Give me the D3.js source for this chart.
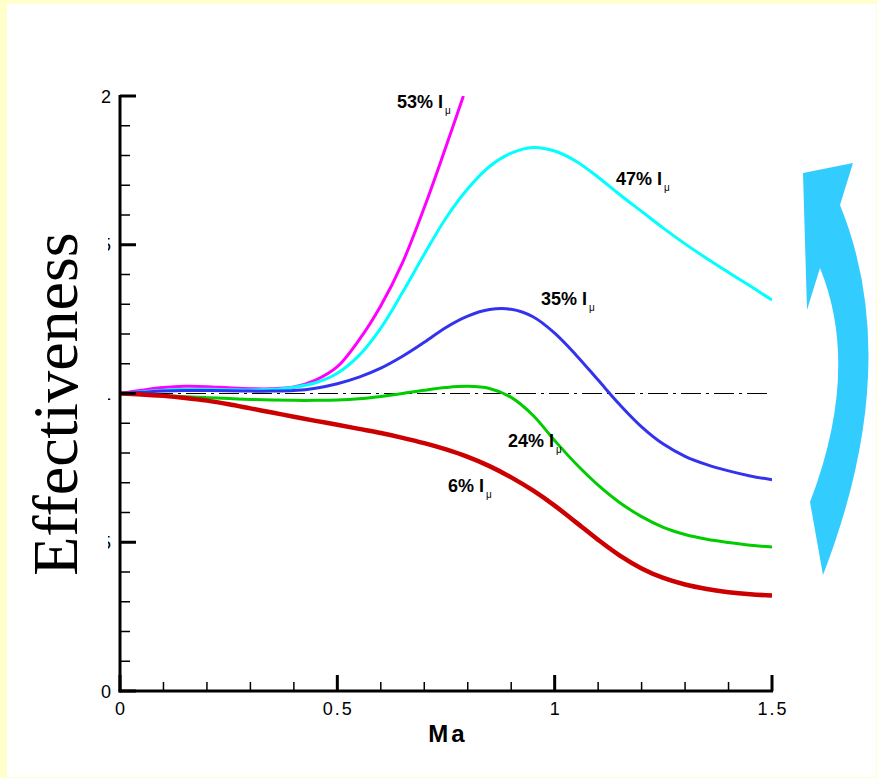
<!DOCTYPE html>
<html><head><meta charset="utf-8">
<script src="https://cdn.jsdelivr.net/npm/d3@7/dist/d3.min.js"></script>
<style>html,body{margin:0;padding:0;background:#ffffcc;}svg{display:block;}</style>
</head><body>
<script>
// ---- data ----
const maGrid = [0,0.05,0.1,0.15,0.2,0.25,0.3,0.35,0.4,0.45,0.5,0.55,0.6,0.65,0.7,0.75,0.8,0.85,0.9,0.95,1.0,1.05,1.1,1.15,1.2,1.25,1.3,1.35,1.4,1.45,1.5];
const eff6  = [1.000,0.997,0.992,0.985,0.976,0.964,0.950,0.936,0.922,0.908,0.895,0.881,0.867,0.851,0.833,0.812,0.787,0.756,0.718,0.674,0.623,0.566,0.508,0.455,0.412,0.380,0.358,0.343,0.332,0.325,0.321];
const eff24 = [1.000,0.997,0.993,0.989,0.986,0.983,0.980,0.978,0.977,0.977,0.978,0.982,0.990,1.000,1.011,1.020,1.024,1.017,0.987,0.927,0.842,0.762,0.692,0.633,0.586,0.550,0.526,0.510,0.499,0.490,0.484];
const eff35 = [1.000,1.004,1.008,1.010,1.010,1.009,1.008,1.008,1.010,1.018,1.033,1.055,1.085,1.125,1.172,1.222,1.260,1.282,1.283,1.258,1.203,1.128,1.045,0.962,0.888,0.830,0.789,0.761,0.740,0.723,0.710];
const eff47 = [1.000,1.006,1.011,1.014,1.014,1.013,1.012,1.014,1.021,1.036,1.068,1.128,1.220,1.340,1.468,1.590,1.688,1.763,1.808,1.827,1.815,1.780,1.727,1.668,1.612,1.556,1.503,1.454,1.407,1.361,1.314];
const maGrid53 = [0,0.05,0.1,0.15,0.2,0.25,0.3,0.35,0.4,0.45,0.5,0.55,0.6,0.65,0.7,0.75,0.79];
const eff53 = [1.000,1.011,1.020,1.024,1.023,1.019,1.016,1.016,1.022,1.045,1.090,1.180,1.295,1.440,1.625,1.830,2.0];
const seriesNames = ["6%","24%","35%","47%","53%"];
const seriesColors = ["#cc0000","#00cc00","#3333ee","#00ffff","#ff00ff"];
const labelPos = [[0.7546,0.669],[0.8926,0.820],[0.9686,1.297],[1.141,1.701],[0.637,1.960]]; // label anchor in data units
const xMajor = [0,0.5,1,1.5];
const xTickLabels = ["0","0.5","1","1.5"];
const yMajor = [0,0.5,1,1.5,2];
const yTickLabels = ["0","0.5","1","1.5","2"];

const W = 877, H = 778;
const svg = d3.select("body").append("svg").attr("width", W).attr("height", H);
svg.append("rect").attr("x",0).attr("y",0).attr("width",W).attr("height",H).attr("fill","#ffffcc");
svg.append("rect").attr("x",7).attr("y",4).attr("width",869).attr("height",773).attr("fill","#ffffff");

const x = d3.scaleLinear().domain([0,1.5]).range([120,772]);
const y = d3.scaleLinear().domain([0,2]).range([691,96]);

svg.append("clipPath").attr("id","plot").append("rect")
  .attr("x",x(0)).attr("y",y(2)).attr("width",x(1.5)-x(0)).attr("height",y(0)-y(2));

// reference line at 1
svg.append("line").attr("x1",x(0)).attr("x2",x(1.5)).attr("y1",y(1)).attr("y2",y(1))
  .attr("stroke","#000").attr("stroke-width",1).attr("stroke-dasharray","20,5,3,5");

const line = d3.line().x(d=>x(d[0])).y(d=>y(d[1])).curve(d3.curveCatmullRom.alpha(0.5));
const allSeries = [
  maGrid.map((m,i)=>[m,eff6[i]]),
  maGrid.map((m,i)=>[m,eff24[i]]),
  maGrid.map((m,i)=>[m,eff35[i]]),
  maGrid.map((m,i)=>[m,eff47[i]]),
  maGrid53.map((m,i)=>[m,eff53[i]])
];
const widths = [4.5,3,3,3,3];
const g = svg.append("g").attr("clip-path","url(#plot)");
[4,3,2,1,0].forEach(i=>{
  g.append("path").datum(allSeries[i]).attr("d",line).attr("fill","none")
   .attr("stroke",seriesColors[i]).attr("stroke-width",widths[i]).attr("stroke-linejoin","round");
});

// axes
const axG = svg.append("g").attr("stroke","#000");
axG.append("line").attr("x1",x(0)).attr("x2",x(0)).attr("y1",y(0)+1.5).attr("y2",y(2)-1).attr("stroke-width",3);
axG.append("line").attr("x1",x(0)-1.5).attr("x2",x(1.5)+1).attr("y1",y(0)).attr("y2",y(0)).attr("stroke-width",3);
d3.range(0,21).forEach(k=>{
  const v = k/10, major = (k%5===0);
  axG.append("line").attr("x1",x(0)).attr("x2",x(0)+(major?16:10)).attr("y1",y(v)).attr("y2",y(v))
    .attr("stroke-width",major?3:1.5);
});
d3.range(0,16).forEach(k=>{
  const v = k/10, major = (k%5===0);
  axG.append("line").attr("x1",x(v)).attr("x2",x(v)).attr("y1",y(0)).attr("y2",y(0)-(major?16:9))
    .attr("stroke-width",major?3:1.5);
});
const tf = "'Liberation Sans', Arial, sans-serif";
xMajor.forEach((v,i)=>{
  svg.append("text").attr("x",x(v)+1).attr("y",715).attr("text-anchor","middle")
    .attr("font-family",tf).attr("font-size",18).attr("letter-spacing",2).text(xTickLabels[i]);
});
yMajor.forEach((v,i)=>{
  svg.append("text").attr("x",111).attr("y",y(v)+6.5).attr("text-anchor","end")
    .attr("font-family",tf).attr("font-size",18).text(yTickLabels[i]);
});
svg.append("text").attr("x",448).attr("y",742).attr("text-anchor","middle")
  .attr("font-family",tf).attr("font-size",24).attr("font-weight","bold").attr("letter-spacing",3).text("Ma");

// y title with white box
svg.append("rect").attr("x",24).attr("y",222).attr("width",84).attr("height",366).attr("fill","#fff");
svg.append("text").attr("transform","translate(77,404) rotate(-90)").attr("text-anchor","middle")
  .attr("font-family","'Liberation Serif','Times New Roman',serif").attr("font-size",64).text("Effectiveness");

// series labels
seriesNames.forEach((n,i)=>{
  const t = svg.append("text").attr("x",x(labelPos[i][0])).attr("y",y(labelPos[i][1]))
    .attr("font-family",tf).attr("font-size",18).attr("font-weight","bold").attr("fill","#000");
  t.append("tspan").text(n+" I");
  t.append("tspan").attr("dy",6).attr("dx",2).attr("font-size",10).attr("font-weight","normal").text("μ");
});

// decorative curved arrow
svg.append("path")
  .attr("d","M803,173 L853,163 L840,205 Q904.5,364 823,575 L810,502 Q861,369 820,268 L807,310 Z")
  .attr("fill","#33ccff");
</script>
</body></html>
